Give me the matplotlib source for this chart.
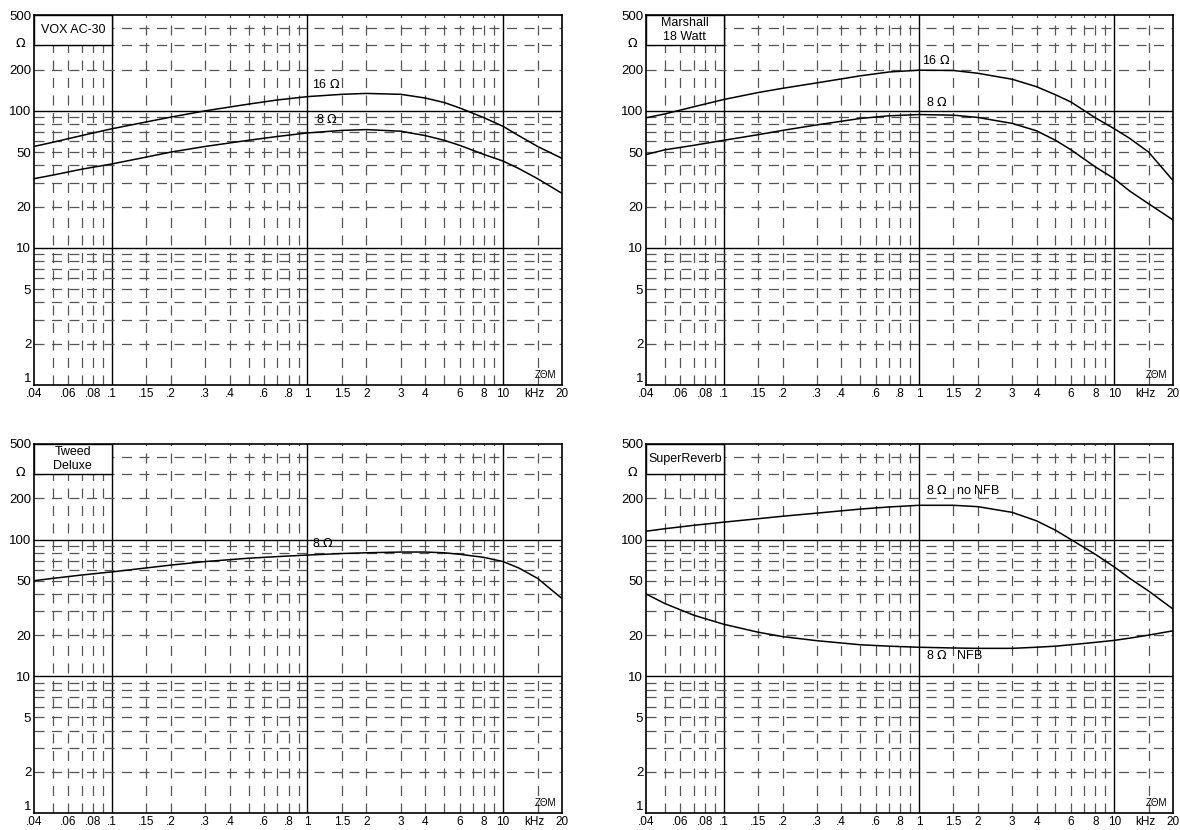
import numpy as np
import matplotlib
matplotlib.use('Agg')
import matplotlib.pyplot as plt
from matplotlib.patches import Rectangle

plt.rcParams['font.family'] = ['Liberation Sans', 'DejaVu Sans']

# frequencies in kHz
freq = [0.04, 0.05, 0.07, 0.1, 0.15, 0.2, 0.3, 0.5, 0.7, 1, 1.5, 2, 3, 4, 5, 6, 8, 10, 12, 15, 20]

vox_16 = [55, 59, 66, 74, 83, 90, 100, 112, 120, 127, 132, 134, 132, 124, 115, 105, 89, 77, 66, 55, 45]
vox_8 = [32, 34, 37.5, 41, 46, 50, 55, 61, 65, 69, 72, 73, 71, 66, 61, 56, 48, 43, 38, 32, 25]

marshall_16 = [89, 95, 107, 121, 136, 146, 160, 180, 192, 198, 197, 188, 170, 150, 131, 116, 89, 74, 63, 50, 31]
marshall_8 = [48, 52, 56, 61, 67, 72, 79, 88, 92, 94, 93, 89.5, 81, 71.5, 61, 52, 39, 32, 26, 21, 16]

tweed_8 = [50, 52, 55, 58, 62, 65, 69, 73, 75, 77, 79, 80, 81, 81, 80, 78, 74, 69, 62, 52, 37]

sr_no_nfb = [115, 120, 127, 134, 142, 148, 156, 167, 173, 178, 178, 174, 158, 137, 117, 100, 78, 63, 52, 42, 31]
sr_nfb = [40, 34, 28, 24, 21, 19.5, 18.2, 17, 16.6, 16.3, 16.1, 16, 16, 16.3, 16.6, 17, 17.7, 18.3, 19, 20, 21.5]

x_ticks = [0.04, 0.06, 0.08, 0.1, 0.15, 0.2, 0.3, 0.4, 0.6, 0.8, 1, 1.5, 2, 3, 4, 6, 8, 10, 14.5, 20]
x_labels = ['.04', '.06', '.08', '.1', '.15', '.2', '.3', '.4', '.6', '.8', '1', '1.5', '2',
            '3', '4', '6', '8', '10', 'kHz', '20']
y_ticks = [1, 2, 5, 10, 20, 50, 100, 200, 500]
y_labels = ['1', '2', '5', '10', '20', '50', '100', '200', '500']

x_major = [0.1, 1, 10]
x_minor = [0.05, 0.06, 0.07, 0.08, 0.09, 0.15, 0.2, 0.3, 0.4, 0.5, 0.6, 0.7, 0.8, 0.9,
           1.5, 2, 3, 4, 5, 6, 7, 8, 9, 15]
y_major = [10, 100]
y_minor = [2, 3, 4, 5, 6, 7, 8, 9, 20, 30, 40, 50, 60, 70, 80, 90, 200, 300, 400]

panels = [
    ('VOX AC-30', [0.0288, 0.5361, 0.4475, 0.4458],
     [(vox_16, '16 $\\Omega$', 1.05, 140), (vox_8, '8 $\\Omega$', 1.1, 78)]),
    ('Marshall\n18 Watt', [0.5475, 0.5361, 0.4466, 0.4458],
     [(marshall_16, '16 $\\Omega$', 1.03, 210), (marshall_8, '8 $\\Omega$', 1.09, 104)]),
    ('Tweed\nDeluxe', [0.0288, 0.0205, 0.4475, 0.4446],
     [(tweed_8, '8 $\\Omega$', 1.05, 84)]),
    ('SuperReverb', [0.5475, 0.0205, 0.4466, 0.4446],
     [(sr_no_nfb, '8 $\\Omega$   no NFB', 1.09, 205), (sr_nfb, '8 $\\Omega$   NFB', 1.09, 12.8)]),
]

fig = plt.figure(figsize=(11.8, 8.3), dpi=100)

for title, rect, curves in panels:
    ax = fig.add_axes(rect)
    ax.set_xscale('log')
    ax.set_yscale('log')
    ax.set_xlim(0.04, 20)
    ax.set_ylim(1, 500)

    for xv in x_minor:
        ax.axvline(xv, color='#555555', lw=0.9, ls=(0, (8, 6)), zorder=1)
    for xv in x_major:
        ax.axvline(xv, color='black', lw=1.0, zorder=1)
    for yv in y_minor:
        ax.axhline(yv, color='#555555', lw=0.9, ls=(0, (8, 6)), zorder=1)
    for yv in y_major:
        ax.axhline(yv, color='black', lw=1.0, zorder=1)

    ax.add_patch(Rectangle((0.04, 300), 0.06, 200, facecolor='white', edgecolor='black',
                           lw=1.0, zorder=3))
    ax.text(0.0632, 390, title, ha='center', va='center', fontsize=9, zorder=4,
            linespacing=1.25)

    for vals, label, lx, ly in curves:
        ax.plot(freq, vals, color='black', lw=1.1, zorder=5)
        ax.text(lx, ly, label, fontsize=9, ha='left', va='bottom', zorder=6)

    ax.text(16.5, 1.08, 'ZΘM', fontsize=7, ha='center', va='bottom', zorder=6)

    ax.xaxis.set_minor_locator(matplotlib.ticker.NullLocator())
    ax.yaxis.set_minor_locator(matplotlib.ticker.NullLocator())
    ax.set_xticks(x_ticks)
    ax.set_xticklabels(x_labels)
    ax.set_yticks(y_ticks)
    ax.set_yticklabels(y_labels)
    ax.tick_params(length=0, pad=2)
    ax.tick_params(axis='x', labelsize=8.5)
    ax.tick_params(axis='y', labelsize=9.5)
    ax.get_yticklabels()[0].set_verticalalignment('bottom')
    ax.text(-0.025, 310, '$\\Omega$', transform=ax.get_yaxis_transform(), ha='center',
            va='center', fontsize=9)
    for s in ax.spines.values():
        s.set_linewidth(1.2)
        s.set_zorder(7)

fig.savefig('out.png', dpi=100)
